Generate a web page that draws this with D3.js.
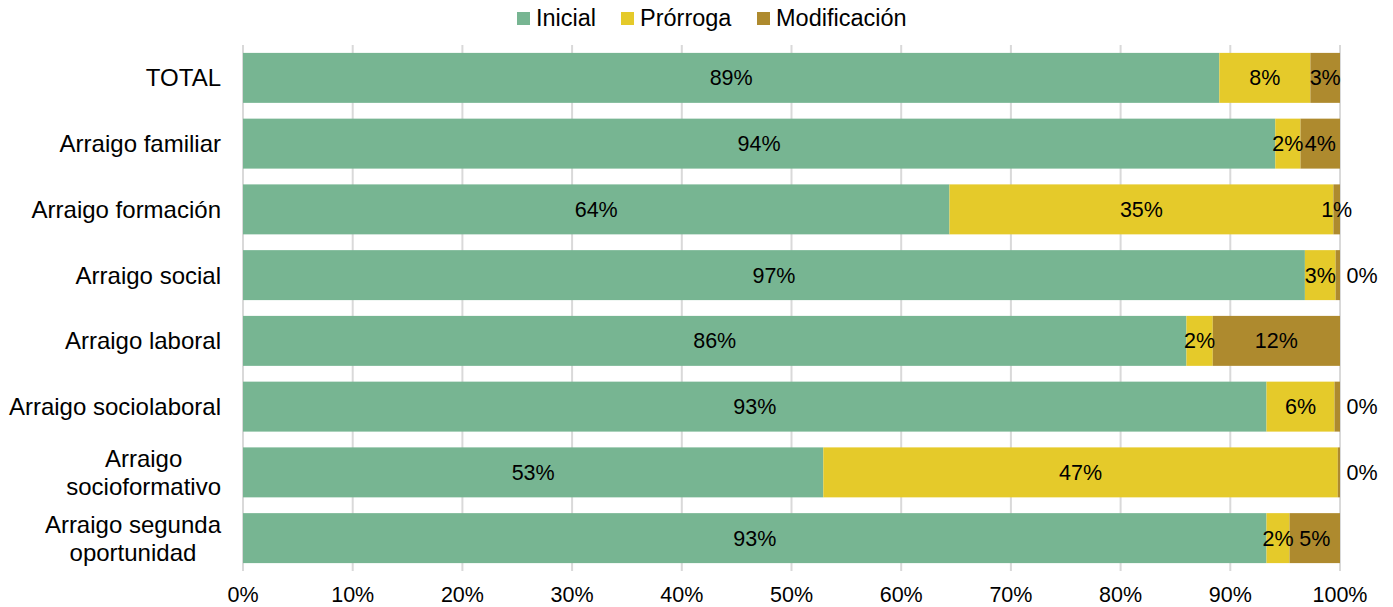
<!DOCTYPE html>
<html><head><meta charset="utf-8">
<script src="https://cdn.jsdelivr.net/npm/d3@7"></script>
<style>body{margin:0;background:#fff}svg{display:block;font-family:"Liberation Sans",Arial,sans-serif}</style>
</head><body><svg id="c" width="1393" height="607"></svg>
<script>
const categories = ["TOTAL","Arraigo familiar","Arraigo formación","Arraigo social","Arraigo laboral","Arraigo sociolaboral","Arraigo\nsocioformativo","Arraigo segunda\noportunidad"];
const seriesNames = ["Inicial","Prórroga","Modificación"];
const inicial = [0.890,0.941,0.644,0.968,0.860,0.933,0.529,0.933];
const prorroga = [0.083,0.023,0.350,0.028,0.024,0.062,0.469,0.021];
const modificacion = [0.027,0.036,0.006,0.004,0.116,0.005,0.002,0.046];
const colors = ["#77B592","#E5CA2A","#AE8A2E"];
const xTicks = [0,0.1,0.2,0.3,0.4,0.5,0.6,0.7,0.8,0.9,1];

const svg = d3.select("#c");
const m = {l:243, r:1340, t:45, b:571};
const x = d3.scaleLinear().domain([0,1]).range([m.l, m.r]);
const y = d3.scaleBand().domain(categories).range([m.t, m.b]).paddingInner(0.24).paddingOuter(0.12);
const fmt = d3.format(".0%");

// gridlines
svg.append("g").selectAll("line").data(xTicks).join("line")
  .attr("x1", d=>x(d)).attr("x2", d=>x(d)).attr("y1", m.t).attr("y2", m.b)
  .attr("stroke", "#D9D9D9").attr("stroke-width", 2);

const rows = categories.map((c,i)=>({cat:c, vals:[inicial[i],prorroga[i],modificacion[i]]}));
const stack = d3.stack().keys([0,1,2]).value((d,k)=>d.vals[k]);
const series = stack(rows);

const g = svg.append("g");
series.forEach((s,k)=>{
  g.selectAll(null).data(s).join("rect")
    .attr("x", d=>x(d[0])).attr("width", d=>x(d[1])-x(d[0]))
    .attr("y", d=>y(d.data.cat)).attr("height", y.bandwidth())
    .attr("fill", colors[k]);
});
// labels
series.forEach((s,k)=>{
  g.selectAll(null).data(s).join("text")
    .attr("x", d=>{ const v=d[1]-d[0]; if (Math.round(v*100)===0) return x(1)+22; return (x(d[0])+x(d[1]))/2; })
    .attr("y", d=>y(d.data.cat)+y.bandwidth()/2)
    .attr("dy","0.35em").attr("text-anchor","middle")
    .attr("font-size",21.5).attr("fill","#000")
    .text(d=>fmt(d[1]-d[0]));
});

// category labels
categories.forEach(c=>{
  const lines = c.split("\n");
  const t = svg.append("text").attr("font-size",24).attr("fill","#000").attr("text-anchor","middle");
  const lh = 28;
  const cy = y(c)+y.bandwidth()/2;
  lines.forEach((ln,i)=>{
    t.append("tspan").attr("x",0).attr("y", cy + (i-(lines.length-1)/2)*lh).attr("dy","0.35em").text(ln);
  });
  const w = d3.max(t.selectAll("tspan").nodes(), n=>n.getComputedTextLength());
  t.selectAll("tspan").attr("x", 221 - w/2);
});

// x axis labels
svg.append("g").selectAll("text").data(xTicks).join("text")
  .attr("x", d=>x(d)).attr("y", 601.5).attr("text-anchor","middle")
  .attr("font-size",21.5).attr("fill","#000").text(d=>fmt(d));

// legend
const leg = svg.append("g");
const legX = [517, 621, 757];
seriesNames.forEach((n,i)=>{
  leg.append("rect").attr("x", legX[i]).attr("y", 12).attr("width",13).attr("height",13).attr("fill",colors[i]);
  leg.append("text").attr("x", legX[i]+19).attr("y", 18).attr("dy","0.35em").attr("font-size",23.5).attr("fill","#000").text(n);
});
</script></body></html>
